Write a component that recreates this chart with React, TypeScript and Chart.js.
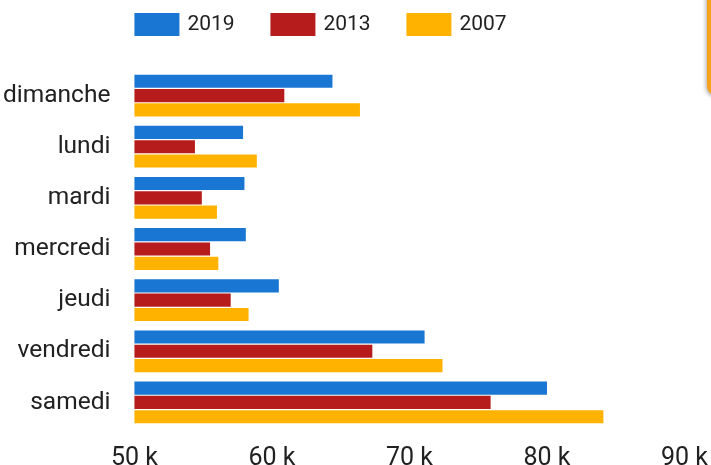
import React, { useEffect, useRef } from "react";
import { Chart, registerables } from "chart.js";

Chart.register(...registerables);

const categories = ["dimanche", "lundi", "mardi", "mercredi", "jeudi", "vendredi", "samedi"];
const seriesNames = ["2019", "2013", "2007"];
const values2019 = [64400, 57900, 58000, 58100, 60500, 71100, 80000];
const values2013 = [60900, 54400, 54900, 55500, 57000, 67300, 75900];
const values2007 = [66400, 58900, 56000, 56100, 58300, 72400, 84100];
const xTicks = [50000, 60000, 70000, 80000, 90000];
const colors = ["#1976D2", "#B71C1C", "#FFB300"];

const FONT = "Roboto";

const legendPlugin = {
  id: "customLegend",
  afterDraw(chart: any) {
    const { ctx, chartArea } = chart;
    ctx.save();
    ctx.font = `21px ${FONT}`;
    ctx.textBaseline = "middle";
    ctx.textAlign = "left";
    chart.data.datasets.forEach((ds: any, i: number) => {
      const x = chartArea.left + i * 136;
      ctx.fillStyle = ds.backgroundColor;
      ctx.fillRect(x, 13, 45, 23);
      ctx.fillStyle = "#212121";
      ctx.fillText(ds.label, x + 53, 25);
    });
    ctx.restore();
  },
};

export default function App() {
  const ref = useRef<HTMLCanvasElement>(null);
  useEffect(() => {
    if (!ref.current) return;
    const data = [values2019, values2013, values2007];
    const chart = new Chart(ref.current, {
      type: "bar",
      data: {
        labels: categories,
        datasets: seriesNames.map((name, i) => ({
          label: name,
          data: data[i],
          backgroundColor: colors[i],
          borderWidth: 0,
          categoryPercentage: 0.84,
          barPercentage: 0.92,
        })),
      },
      plugins: [legendPlugin],
      options: {
        indexAxis: "y",
        animation: false,
        responsive: true,
        maintainAspectRatio: false,
        layout: { padding: { top: 70, right: 0, left: -21, bottom: 0 } },
        plugins: {
          legend: { display: false },
          tooltip: { enabled: false },
        },
        scales: {
          x: {
            min: 50000,
            max: 90000,
            afterBuildTicks: (axis: any) => {
              axis.ticks = xTicks.map((v) => ({ value: v }));
            },
            grid: { display: false, drawTicks: false },
            border: { display: false },
            ticks: {
              padding: 16,
              color: "#212121",
              font: { family: FONT, size: 25 },
              callback: (v: any) => `${Number(v) / 1000} k`,
            },
          },
          y: {
            grid: { display: false, drawTicks: false },
            border: { display: false },
            ticks: {
              padding: 24,
              color: "#212121",
              font: { family: FONT, size: 24.5 },
            },
          },
        },
      },
    });
    return () => chart.destroy();
  }, []);

  return (
    <div style={{ position: "absolute", left: 0, top: 0, width: 711, height: 465, overflow: "hidden", background: "#fff" }}>
      <div style={{ position: "absolute", left: 0, top: 0, width: 724, height: 490 }}>
        <canvas ref={ref} />
      </div>
      <div
        style={{
          position: "absolute",
          left: 707,
          top: -20,
          width: 40,
          height: 116,
          background: "#fff",
          borderLeft: "4px solid #F7A21B",
          borderRadius: 10,
          boxShadow: "-1px 1px 4px rgba(0,0,0,0.35)",
        }}
      />
    </div>
  );
}
